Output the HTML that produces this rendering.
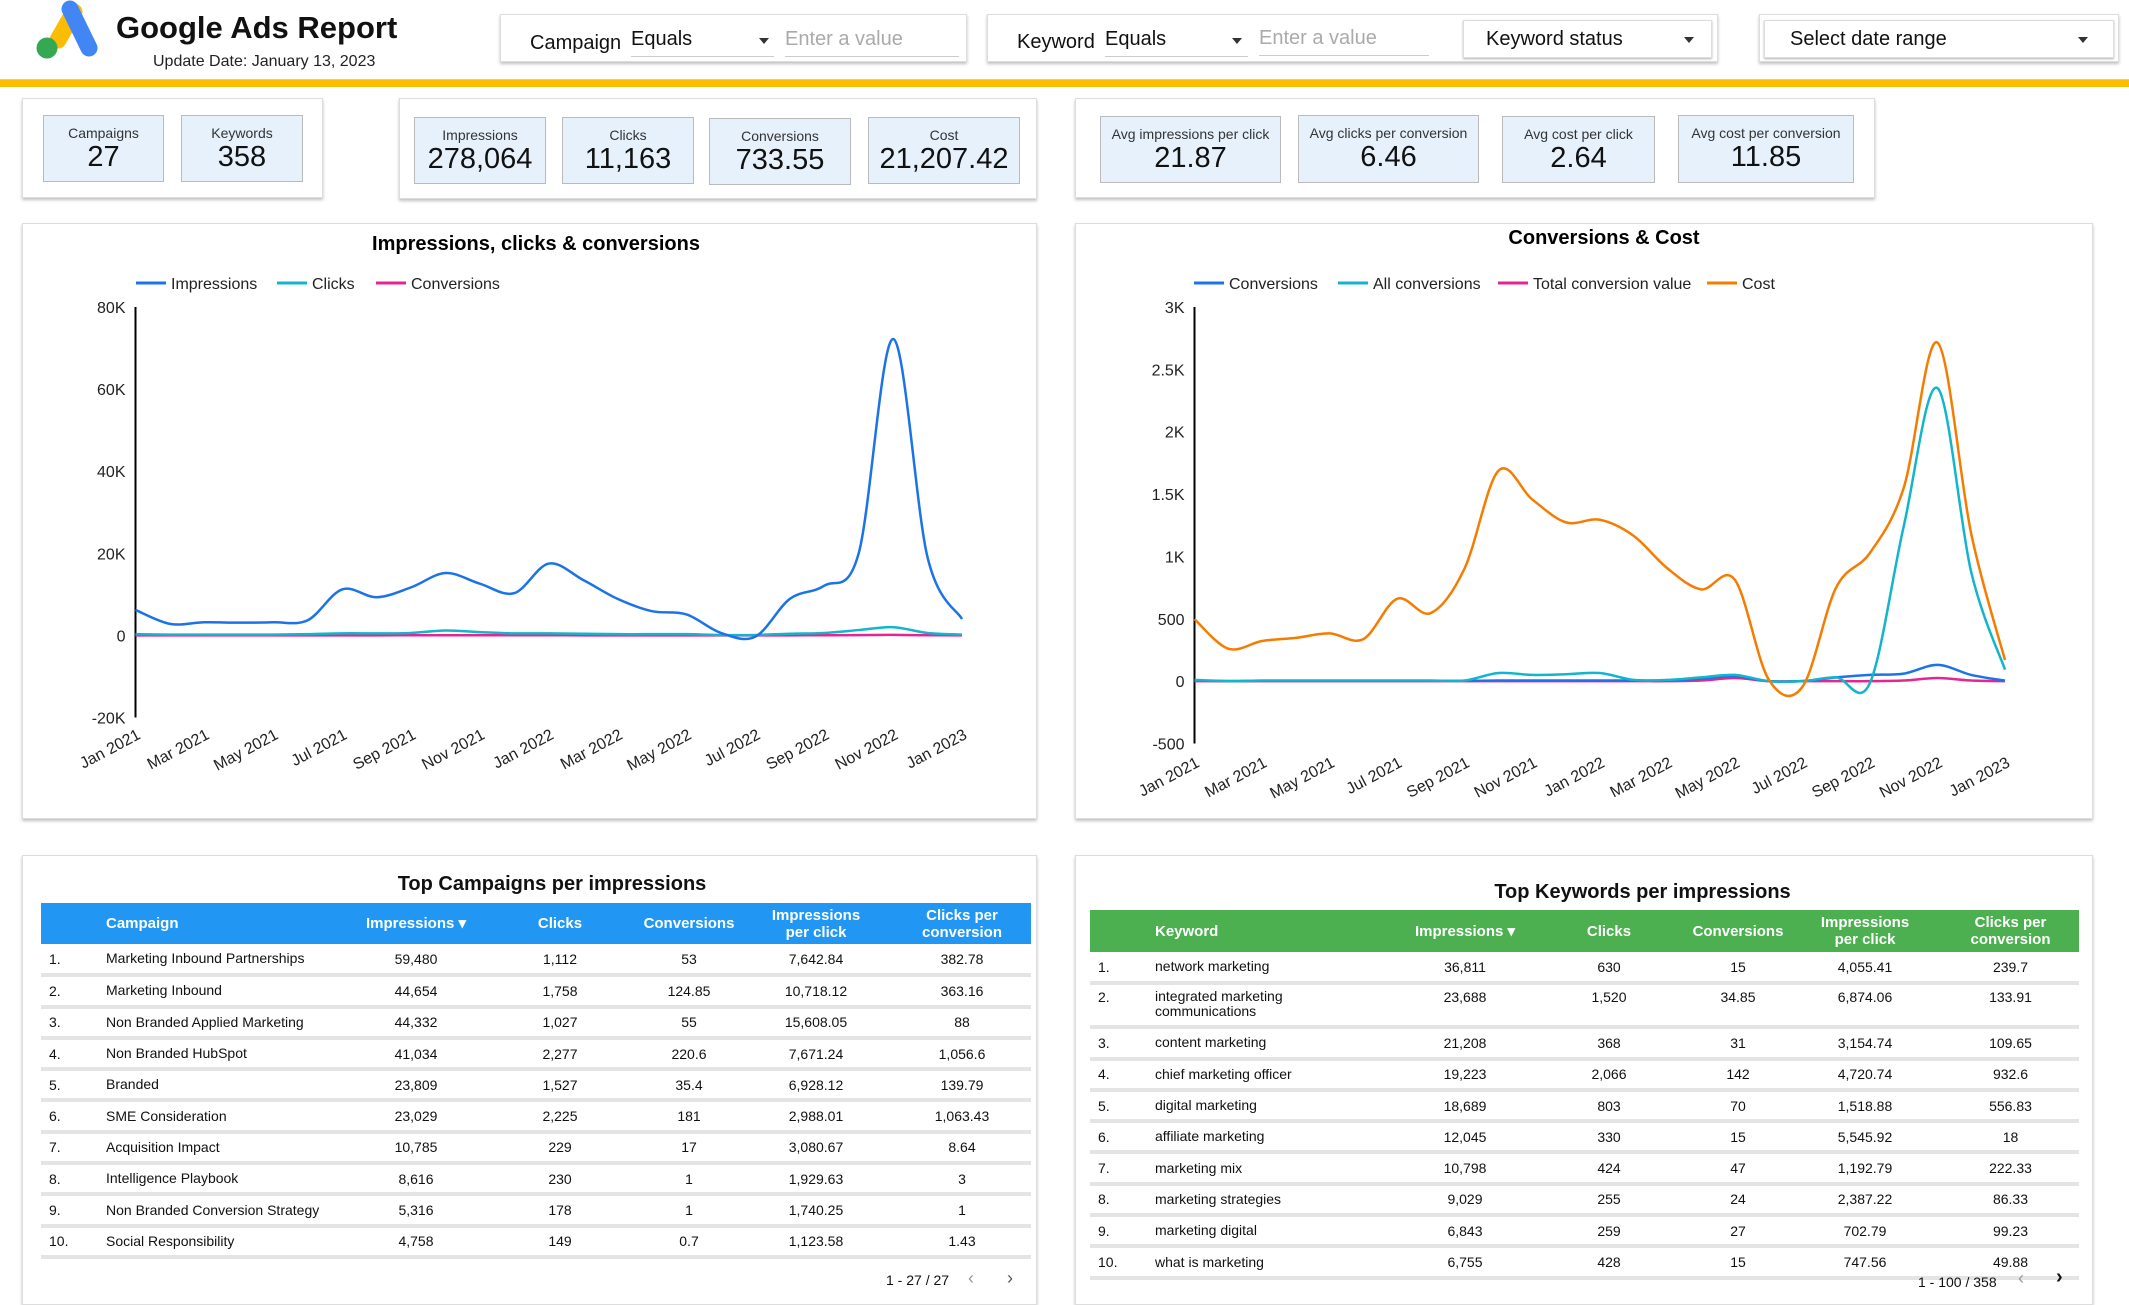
<!DOCTYPE html>
<html><head><meta charset="utf-8"><style>
*{box-sizing:border-box;margin:0;padding:0}
body{width:2129px;height:1297px;background:#fff;font-family:"Liberation Sans",sans-serif;position:relative;overflow:hidden;color:#111}
.a{position:absolute}
.box{position:absolute;background:#fff;border:1px solid #ddd;box-shadow:0 2px 3px rgba(0,0,0,.25)}
.card{position:absolute;background:#e6f1fc;border:1px solid #bbb;text-align:center}
.card .l{font-size:14px;color:#333;margin-top:9px;white-space:nowrap}
.card .v{font-size:29px;color:#111;margin-top:0px}
.fl{position:absolute;font-size:20px;color:#111;white-space:nowrap}
.ph{color:#aaa}
.tri{position:absolute;width:0;height:0;border-left:5px solid transparent;border-right:5px solid transparent;border-top:6px solid #333}
table{border-collapse:collapse;position:absolute;font-size:14px;table-layout:fixed}
td,th{white-space:nowrap;padding:0;overflow:visible}
th{color:#fff;font-weight:bold;font-size:15px;line-height:17px}
tr.r td{border-bottom:4px solid #e4e4e4}
.c{text-align:center}
.t{font-size:20px;font-weight:bold;position:absolute;text-align:center}
</style></head><body>
<svg class="a" style="left:30px;top:0" width="70" height="62">
<line x1="28" y1="40" x2="44" y2="12" stroke="#fbbc04" stroke-width="17" stroke-linecap="round"/>
<line x1="40" y1="9" x2="59" y2="48" stroke="#4285f4" stroke-width="17" stroke-linecap="round"/>
<circle cx="17" cy="48" r="10.5" fill="#34a853"/>
</svg>
<div class="a" style="left:116px;top:10px;font-size:31px;font-weight:bold">Google Ads Report</div>
<div class="a" style="left:153px;top:53px;font-size:16px;color:#222">Update Date: January 13, 2023</div>
<div class="a" style="left:0;top:79px;width:2129px;height:8px;background:#fbbc04;border-top:1px solid #ccc"></div>

<div class="box" style="left:500px;top:14px;width:467px;height:48px"></div>
<div class="fl" style="left:530px;top:32px">Campaign</div>
<div class="fl" style="left:631px;top:28px;width:143px;border-bottom:1px solid #ccc;height:29px">Equals</div>
<div class="tri" style="left:759px;top:38px"></div>
<div class="fl ph" style="left:785px;top:28px;width:174px;border-bottom:1px solid #ccc;height:29px">Enter a value</div>

<div class="box" style="left:987px;top:14px;width:731px;height:48px"></div>
<div class="fl" style="left:1017px;top:31px">Keyword</div>
<div class="fl" style="left:1105px;top:28px;width:143px;border-bottom:1px solid #ccc;height:29px">Equals</div>
<div class="tri" style="left:1232px;top:38px"></div>
<div class="fl ph" style="left:1259px;top:27px;width:170px;border-bottom:1px solid #ccc;height:29px">Enter a value</div>
<div class="box" style="left:1463px;top:20px;width:249px;height:38px;box-shadow:0 1px 2px rgba(0,0,0,.3)"></div>
<div class="fl" style="left:1486px;top:28px">Keyword status</div>
<div class="tri" style="left:1684px;top:37px"></div>

<div class="box" style="left:1759px;top:14px;width:360px;height:48px"></div>
<div class="box" style="left:1764px;top:20px;width:350px;height:38px;box-shadow:0 1px 2px rgba(0,0,0,.3)"></div>
<div class="fl" style="left:1790px;top:28px">Select date range</div>
<div class="tri" style="left:2078px;top:37px"></div>

<div class="box" style="left:22px;top:98px;width:301px;height:100px"></div>
<div class="card" style="left:43px;top:115px;width:121px;height:67px"><div class="l">Campaigns</div><div class="v">27</div></div>
<div class="card" style="left:181px;top:115px;width:122px;height:67px"><div class="l">Keywords</div><div class="v">358</div></div>

<div class="box" style="left:399px;top:98px;width:638px;height:101px"></div>
<div class="card" style="left:414px;top:117px;width:132px;height:67px"><div class="l">Impressions</div><div class="v">278,064</div></div>
<div class="card" style="left:562px;top:117px;width:132px;height:67px"><div class="l">Clicks</div><div class="v">11,163</div></div>
<div class="card" style="left:709px;top:118px;width:142px;height:67px"><div class="l">Conversions</div><div class="v">733.55</div></div>
<div class="card" style="left:868px;top:117px;width:152px;height:67px"><div class="l">Cost</div><div class="v">21,207.42</div></div>

<div class="box" style="left:1075px;top:98px;width:800px;height:100px"></div>
<div class="card" style="left:1100px;top:116px;width:181px;height:67px"><div class="l">Avg impressions per click</div><div class="v">21.87</div></div>
<div class="card" style="left:1298px;top:115px;width:181px;height:68px"><div class="l">Avg clicks per conversion</div><div class="v">6.46</div></div>
<div class="card" style="left:1502px;top:116px;width:153px;height:67px"><div class="l">Avg cost per click</div><div class="v">2.64</div></div>
<div class="card" style="left:1678px;top:115px;width:176px;height:68px"><div class="l">Avg cost per conversion</div><div class="v">11.85</div></div>

<div class="box" style="left:22px;top:223px;width:1015px;height:596px"></div>
<div class="box" style="left:1075px;top:223px;width:1018px;height:596px"></div>
<div class="box" style="left:22px;top:855px;width:1015px;height:450px"></div>
<div class="box" style="left:1075px;top:855px;width:1018px;height:450px"></div>

<svg id="ch" class="a" style="left:0;top:0" width="2129" height="1297"></svg>

<div class="t" style="left:22px;top:873px;width:1060px">Top Campaigns per impressions</div>
<table style="left:41px;top:903px;width:990px">
<colgroup><col style="width:65px"><col style="width:245px"><col style="width:130px"><col style="width:158px"><col style="width:100px"><col style="width:154px"><col style="width:138px"></colgroup>
<tr style="background:#2196f3;height:41px"><th></th><th style="text-align:left">Campaign</th><th class="c">Impressions ▾</th><th class="c">Clicks</th><th class="c">Conversions</th><th class="c">Impressions<br>per click</th><th class="c">Clicks per<br>conversion</th></tr>
<tbody id="tb1"></tbody></table>
<div class="a" style="left:886px;top:1272px;font-size:14px">1 - 27 / 27</div>
<div class="a" style="left:968px;top:1268px;font-size:18px;color:#999">‹</div>
<div class="a" style="left:1007px;top:1268px;font-size:18px;color:#555">›</div>

<div class="t" style="left:1075px;top:881px;width:1135px">Top Keywords per impressions</div>
<table style="left:1090px;top:910px;width:989px">
<colgroup><col style="width:65px"><col style="width:245px"><col style="width:130px"><col style="width:158px"><col style="width:100px"><col style="width:154px"><col style="width:137px"></colgroup>
<tr style="background:#4caf50;height:42px"><th></th><th style="text-align:left">Keyword</th><th class="c">Impressions ▾</th><th class="c">Clicks</th><th class="c">Conversions</th><th class="c">Impressions<br>per click</th><th class="c">Clicks per<br>conversion</th></tr>
<tbody id="tb2"></tbody></table>
<div class="a" style="left:1918px;top:1274px;font-size:14px">1 - 100 / 358</div>
<div class="a" style="left:2018px;top:1268px;font-size:18px;color:#999">‹</div>
<div class="a" style="left:2056px;top:1266px;font-size:20px;color:#111;font-weight:bold">›</div>

<script>
const months=["Jan 2021","Feb 2021","Mar 2021","Apr 2021","May 2021","Jun 2021","Jul 2021","Aug 2021","Sep 2021","Oct 2021","Nov 2021","Dec 2021","Jan 2022","Feb 2022","Mar 2022","Apr 2022","May 2022","Jun 2022","Jul 2022","Aug 2022","Sep 2022","Oct 2022","Nov 2022","Dec 2022","Jan 2023"];
const impressions=[6200,2800,3200,3100,3200,3700,11200,9300,11700,15200,12600,10300,17500,13500,8900,5900,5100,600,-300,8900,12100,20000,72200,19000,4000];
const clicks=[300,200,200,200,200,300,500,500,600,1200,800,500,500,400,300,300,300,100,100,400,600,1300,2000,600,200];
const conversionsL=[20,10,10,10,10,10,20,20,30,50,40,30,30,20,20,20,20,10,10,20,30,60,120,40,10];
const leftTicks=[-20000,0,20000,40000,60000,80000];
const leftTickLabels=["-20K","0","20K","40K","60K","80K"];
const cost=[497,260,322,347,383,337,660,546,905,1687,1457,1273,1294,1166,905,736,813,15,-46,751,1028,1549,2715,1181,169];
const allConversions=[10,0,5,5,5,5,5,5,5,65,50,55,65,10,10,30,50,0,0,30,-15,1240,2350,874,92];
const conversionsR=[5,0,2,2,2,2,2,2,2,5,5,5,5,5,5,20,40,0,0,30,50,60,130,50,5];
const totalConvValue=[0,0,0,0,0,0,0,0,0,0,0,0,0,0,0,5,25,0,0,0,0,5,25,5,0];
const rightTicks=[-500,0,500,1000,1500,2000,2500,3000];
const rightTickLabels=["-500","0","500","1K","1.5K","2K","2.5K","3K"];

const campaigns=[["Marketing Inbound Partnerships","59,480","1,112","53","7,642.84","382.78"],["Marketing Inbound","44,654","1,758","124.85","10,718.12","363.16"],["Non Branded Applied Marketing","44,332","1,027","55","15,608.05","88"],["Non Branded HubSpot","41,034","2,277","220.6","7,671.24","1,056.6"],["Branded","23,809","1,527","35.4","6,928.12","139.79"],["SME Consideration","23,029","2,225","181","2,988.01","1,063.43"],["Acquisition Impact","10,785","229","17","3,080.67","8.64"],["Intelligence Playbook","8,616","230","1","1,929.63","3"],["Non Branded Conversion Strategy","5,316","178","1","1,740.25","1"],["Social Responsibility","4,758","149","0.7","1,123.58","1.43"]];
const keywords=[["network marketing","36,811","630","15","4,055.41","239.7"],["integrated marketing<br>communications","23,688","1,520","34.85","6,874.06","133.91"],["content marketing","21,208","368","31","3,154.74","109.65"],["chief marketing officer","19,223","2,066","142","4,720.74","932.6"],["digital marketing","18,689","803","70","1,518.88","556.83"],["affiliate marketing","12,045","330","15","5,545.92","18"],["marketing mix","10,798","424","47","1,192.79","222.33"],["marketing strategies","9,029","255","24","2,387.22","86.33"],["marketing digital","6,843","259","27","702.79","99.23"],["what is marketing","6,755","428","15","747.56","49.88"]];

function fill(id,rows,name){
  const tb=document.getElementById(id);
  rows.forEach((r,i)=>{
    const tr=document.createElement('tr');
    tr.className='r';
    
    
    const two=r[0].indexOf('<br>')>=0;
    tr.style.height=(two?44:31.3)+'px';
    let h='<td style="padding-left:8px;vertical-align:'+(two?'top;padding-top:4px':'middle')+'">'+(i+1)+'.</td><td style="line-height:15px;vertical-align:'+(two?'top;padding-top:4px':'middle')+'">'+r[0]+'</td>';
    for(let k=1;k<6;k++)h+='<td class="c" style="vertical-align:'+(two?'top;padding-top:4px':'middle')+'">'+r[k]+'</td>';
    tr.innerHTML=h;tb.appendChild(tr);
  });
}
fill('tb1',campaigns,'campaign');
fill('tb2',keywords,'keyword');

const NS='http://www.w3.org/2000/svg';
const svg=document.getElementById('ch');
function el(t,a,p){const e=document.createElementNS(NS,t);for(const k in a)e.setAttribute(k,a[k]);(p||svg).appendChild(e);return e;}
function path(pts){
  let d='M'+pts[0][0]+','+pts[0][1];
  for(let i=0;i<pts.length-1;i++){
    const p0=pts[Math.max(0,i-1)],p1=pts[i],p2=pts[i+1],p3=pts[Math.min(pts.length-1,i+2)];
    const c1=[p1[0]+(p2[0]-p0[0])/6,p1[1]+(p2[1]-p0[1])/6],c2=[p2[0]-(p3[0]-p1[0])/6,p2[1]-(p3[1]-p1[1])/6];
    d+=' C'+c1+' '+c2+' '+p2;
  }
  return d;
}
function chart(o){
  const x=i=>o.x0+(o.x1-o.x0)*i/(months.length-1);
  const y=v=>o.yb+(o.yt-o.yb)*(v-o.min)/(o.max-o.min);
  const g=el('g',{});
  
  
  el('text',{x:o.tx,y:o.ty,'font-size':20,'font-weight':'bold','text-anchor':'middle','font-family':'Liberation Sans'},g).textContent=o.title;
  o.ticks.forEach((t,i)=>{
    const tx=el('text',{x:o.x0-10,y:y(t)+6,'font-size':16,'text-anchor':'end','font-family':'Liberation Sans',fill:'#222'},g);
    
    tx.textContent=o.tickLabels[i];
  });
  const ax=el('line',{x1:o.x0,x2:o.x0,y1:y(o.max),y2:y(o.min),stroke:'#000','stroke-width':2},g);
  
  months.forEach((m,i)=>{
    if(i%2)return;
    const tx=el('text',{x:0,y:0,'font-size':16,'text-anchor':'end','font-family':'Liberation Sans',fill:'#222',transform:'translate('+(x(i)+6)+','+(o.lb)+') rotate(-28)'},g);
    
    tx.textContent=m;
  });
  o.series.forEach(s=>{
    const p=el('path',{d:path(s.data.map((v,i)=>[x(i),y(v)])),fill:'none',stroke:s.color,'stroke-width':2.5},g);
    
    
    const ll=el('line',{x1:s.lx,x2:s.lx+30,y1:o.ly,y2:o.ly,stroke:s.color,'stroke-width':3},g);
    
    const lt=el('text',{x:s.lx+35,y:o.ly+6,'font-size':16,'font-family':'Liberation Sans',fill:'#222'},g);
    
    
    lt.textContent=s.label;
  });
}
chart({name:'impressions-chart',title:'Impressions, clicks &  conversions',tx:536,ty:250,x0:135.5,x1:962,yb:717.5,yt:307,min:-20000,max:80000,ticks:leftTicks,tickLabels:leftTickLabels,lb:738,ly:283,
 series:[{id:'conversions',label:'Conversions',data:conversionsL,color:'#e52592',lx:376},{id:'clicks',label:'Clicks',data:clicks,color:'#12b5cb',lx:277},{id:'impressions',label:'Impressions',data:impressions,color:'#1a73e8',lx:136}]});
chart({name:'conversions-cost-chart',title:'Conversions & Cost',tx:1604,ty:244,x0:1194.5,x1:2005,yb:743.5,yt:307,min:-500,max:3000,ticks:rightTicks,tickLabels:rightTickLabels,lb:766,ly:283,
 series:[{id:'total-conversion-value',label:'Total conversion value',data:totalConvValue,color:'#e52592',lx:1498},{id:'conversions',label:'Conversions',data:conversionsR,color:'#1a73e8',lx:1194},{id:'all-conversions',label:'All conversions',data:allConversions,color:'#12b5cb',lx:1338},{id:'cost',label:'Cost',data:cost,color:'#f57c00',lx:1707}]});
</script>
</body></html>
